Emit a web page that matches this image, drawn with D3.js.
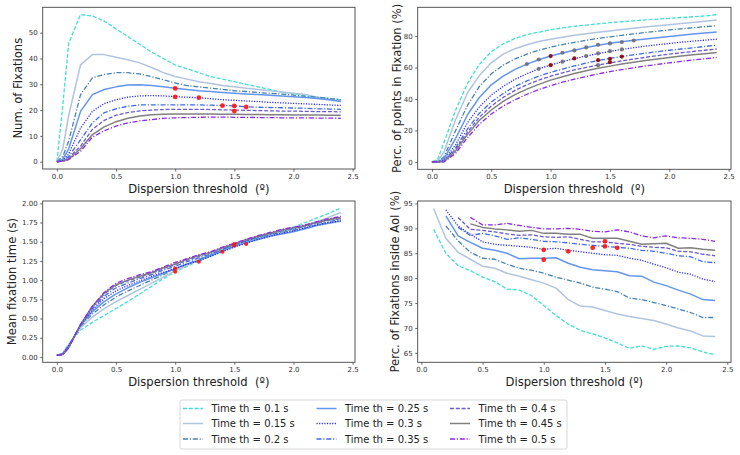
<!DOCTYPE html>
<html><head><meta charset="utf-8">
<script src="https://cdn.jsdelivr.net/npm/d3@7"></script>
<style>body{margin:0;background:#fff}svg{display:block;font-family:"DejaVu Sans",sans-serif}text{white-space:pre}</style>
</head><body><svg id="c" width="740" height="455"></svg>
<script>
// ---------- data ----------
const seriesLabels = ["Time th = 0.1 s","Time th = 0.15 s","Time th = 0.2 s","Time th = 0.25 s","Time th = 0.3 s","Time th = 0.35 s","Time th = 0.4 s","Time th = 0.45 s","Time th = 0.5 s"];
const xDisp = [0,0.05,0.1,0.2,0.3,0.4,0.5,0.6,0.7,0.8,0.9,1.0,1.1,1.2,1.3,1.4,1.5,1.6,1.7,1.8,1.9,2.0,2.1,2.2,2.3,2.4];
const xAoi = [0.1,0.2,0.3,0.4,0.5,0.6,0.7,0.8,0.9,1.0,1.1,1.2,1.3,1.4,1.5,1.6,1.7,1.8,1.9,2.0,2.1,2.2,2.3,2.4];

const numFix = [
 [0,22,46,57,56.5,54.5,51.5,48.5,45.5,42.5,40,37.5,36,34.5,33,32,31,30,29,28,27,26.3,25.6,25,24.5,24],
 [0,5,18,37.5,41.5,41.5,40.5,39.5,38.3,36.5,34.5,33,32,31,30.3,29.5,29,28.5,28,27.5,27,26.5,26,25,24.3,23.5],
 [0,2,8,26,32.5,33.8,34.5,34.5,34,33,31.8,30.5,29.5,29,28.5,28,27.5,27.2,26.8,26.5,26.2,25.8,25.3,25,24.5,24],
 [0,1,5,19.5,26,28,29,29.7,29.8,29.5,29,28.5,28,27.5,27.2,26.8,26.5,26.2,26,25.7,25.5,25.2,24.9,24.5,24,23.3],
 [0,0.5,3,13,19.5,22.5,24,25,25.5,25.6,25.5,25.2,25,24.8,24.4,24,23.8,23.5,23.3,23,22.8,22.6,22.4,22.2,22,21.8],
 [0,0.3,2,8.5,15,19,20.5,21.5,22,22,22,22,22,22,21.9,21.8,21.6,21.3,21.1,21,20.9,20.8,20.7,20.5,20.4,20.3],
 [0,0.2,1.5,6,12.5,16,18,19,19.7,20,20.2,20.3,20.3,20.3,20.2,20.1,20,19.9,19.8,19.7,19.6,19.6,19.5,19.4,19.4,19.3],
 [0,0.2,1,5,10.5,13.5,15.5,16.8,17.7,18.2,18.4,18.5,18.5,18.5,18.5,18.4,18.4,18.3,18.3,18.2,18.2,18.1,18.1,18.1,18,18],
 [0,0.1,0.8,4,9.5,12,13.8,15,15.8,16.3,16.8,17,17.1,17.2,17.3,17.3,17.2,17.2,17.1,17.1,17,17,17,16.9,16.9,16.8]
];
const percPts = [
 [0,2,12,33,50,62,70,75,78.5,81,82.5,84,85.2,86.2,87,87.8,88.5,89.1,89.7,90.3,90.8,91.3,91.8,92.3,92.8,93.6],
 [0,1,6,27,44,55,63,68.5,72,74.5,76.5,78,79.3,80.5,81.5,82.5,83.3,84.2,85,85.8,86.5,87.2,88,88.7,89.4,90.2],
 [0,0.5,3,20,36,48,56,61.5,65.5,68.5,71,73,74.6,76,77.3,78.5,79.5,80.5,81.4,82.3,83.1,83.9,84.6,85.3,86,86.6],
 [0,0,2,15,30,41,49,54.5,58.8,62.2,65,67.3,69.3,71,72.7,74.2,75.4,76.4,77.3,78.2,79,79.8,80.6,81.3,82,82.6],
 [0,0,1,11,25,35,42.5,48,52.5,56,59.2,61.6,63.7,65.7,67.3,68.9,70.3,71.5,72.6,73.6,74.5,75.3,76.1,76.8,77.4,78],
 [0,0,0.5,9,21,31,38,43.5,48,51.5,54.5,57,59,61,62.8,64.5,65.8,67,68.1,69.1,70.1,71,71.8,72.6,73.4,74.2],
 [0,0,0.3,8,19,28.5,35.5,41,45.5,49,52,54.5,56.6,58.5,60.1,61.6,63,64.2,65.4,66.5,67.5,68.5,69.4,70.2,71,71.8],
 [0,0,0.2,7,17.5,26.5,33,38.5,42.8,46.3,49.3,52,54.2,56.2,57.9,59.5,60.9,62.2,63.4,64.5,65.5,66.4,67.3,68.1,68.8,69.5],
 [0,0,0,5.5,15.5,24,30.5,35.5,39.5,43,46,48.5,50.7,52.6,54.3,55.9,57.4,58.7,59.9,61,62,63,63.9,64.8,65.6,66.4]
];
const meanTime = [
 [0.02,0.05,0.17,0.35,0.45,0.54,0.63,0.72,0.82,0.92,1.02,1.11,1.18,1.25,1.31,1.38,1.44,1.49,1.54,1.59,1.64,1.69,1.75,1.81,1.87,1.94],
 [0.02,0.05,0.16,0.38,0.52,0.63,0.72,0.80,0.88,0.96,1.04,1.12,1.19,1.26,1.32,1.39,1.45,1.50,1.55,1.59,1.63,1.66,1.71,1.76,1.82,1.88],
 [0.02,0.04,0.15,0.40,0.56,0.68,0.78,0.86,0.93,1.00,1.07,1.14,1.21,1.27,1.33,1.40,1.46,1.51,1.55,1.59,1.62,1.65,1.68,1.72,1.76,1.79],
 [0.02,0.04,0.14,0.41,0.59,0.72,0.82,0.90,0.97,1.03,1.09,1.15,1.21,1.26,1.32,1.38,1.44,1.49,1.53,1.57,1.60,1.63,1.67,1.71,1.74,1.77],
 [0.02,0.04,0.14,0.42,0.61,0.76,0.86,0.93,0.99,1.05,1.10,1.15,1.21,1.25,1.31,1.37,1.43,1.48,1.53,1.57,1.61,1.64,1.68,1.72,1.75,1.77],
 [0.02,0.03,0.13,0.42,0.63,0.79,0.90,0.96,1.02,1.07,1.13,1.18,1.24,1.29,1.34,1.40,1.46,1.51,1.56,1.60,1.64,1.67,1.70,1.74,1.78,1.80],
 [0.02,0.03,0.13,0.42,0.65,0.82,0.93,0.99,1.04,1.09,1.15,1.20,1.26,1.31,1.36,1.42,1.47,1.52,1.57,1.61,1.65,1.68,1.71,1.75,1.79,1.82],
 [0.02,0.03,0.12,0.42,0.66,0.83,0.94,1.00,1.05,1.10,1.16,1.21,1.27,1.32,1.36,1.42,1.47,1.53,1.57,1.61,1.65,1.68,1.71,1.75,1.79,1.81],
 [0.02,0.03,0.12,0.42,0.66,0.84,0.96,1.02,1.07,1.11,1.17,1.23,1.28,1.33,1.37,1.43,1.48,1.53,1.58,1.62,1.66,1.69,1.72,1.76,1.80,1.83]
];
const percAoi = [
 [89.8,85,82.5,81.5,80.2,79.3,77.8,77.6,76.5,74.5,72.5,70.8,69.5,68.8,68,67,65.9,66.4,65.7,66.3,66.4,66,65.2,64.6],
 [94,88,85.2,83.8,82.4,82,81,80.4,79.7,79,78,75.7,74.4,74.2,73.5,72.8,72.3,71.9,71.5,70.8,70,69.4,68.4,68.3],
 [null,90.5,87.5,85.2,84,83.8,82.8,82,81.6,81,80.2,79.6,79,78.2,77.8,77.3,76,75.7,75.1,74.5,73.8,73.1,72.1,72.1],
 [null,92.5,88.5,87.2,86,85.6,85,83.9,84,84,84.1,83,82.2,81.7,81.5,81.3,80.5,80.4,79.2,78.5,77.6,76.8,75.7,75.5],
 [null,93.7,90.5,88.8,87.3,86.8,86.6,86.4,86.2,85.8,86,85.6,85.3,85,84.7,84.6,84,83.6,82.8,82.1,81.2,80.8,79.8,79.3],
 [null,null,90.2,88.6,89,88.5,87.8,88.1,87.8,87.4,87.3,87.1,86.8,86.6,86.4,86.2,86,85.6,85.4,85,84.5,84.3,83.3,83.1],
 [null,null,92.2,89.8,89.6,89.3,88.9,88.6,88.7,88.3,88.2,88.3,87.8,87.3,87.3,87,86.8,86.4,86.2,86.1,85.4,85.3,84.8,84.5],
 [null,null,null,90.9,90.2,89.9,89.7,89.4,89.6,89,89,88.8,88.8,88,88,88,87.4,86.8,86.9,87,86,86.1,85.8,85.6],
 [null,null,null,92.2,90.7,90.7,91,90.6,90.2,89.9,89.9,90,89.8,89.4,89.3,89.7,89.3,88.5,88.1,88.5,88.1,88,87.8,87.4]
];
// highlighted points [x, y]
const numFixMarks = [[1.0,28.4],[1.0,25.1],[1.2,24.8],[1.4,21.7],[1.5,21.6],[1.5,19.6],[1.6,21.2]];
const percPtsGrayMarks = [[0.8,62.2],[0.9,65.1],[1.1,69.4],[1.2,70.9],[1.3,72.8],[1.4,74.5],[1.5,75.3],[1.6,76.2],[1.7,77.2],[0.9,59.2],[1.1,63.7],[1.3,67.3],[1.4,69],[1.5,70.4],[1.6,71.5],[1.4,61.5]];
const percPtsRedMarks = [[1.0,67.3],[1.0,61.5],[1.2,65.8],[1.4,64.7],[1.5,65.6],[1.6,67],[1.5,63.4]];
const meanTimeMarks = [[1.0,1.11],[1.0,1.15],[1.2,1.24],[1.4,1.37],[1.5,1.45],[1.5,1.47],[1.6,1.47]];
const percAoiMarks = [[1.0,85.7],[1.0,83.7],[1.2,85.4],[1.4,86.1],[1.5,87.4],[1.5,86.4],[1.6,86.1]];

const xTicks = [0,0.5,1,1.5,2,2.5];
const numFixTicks = [0,10,20,30,40,50];
const percPtsTicks = [0,20,40,60,80];
const meanTimeTicks = [0,0.25,0.5,0.75,1,1.25,1.5,1.75,2];
const percAoiTicks = [65,70,75,80,85,90,95];

// ---------- styles ----------
const colors = ["#40e0d0","#b0c4de","#4682b4","#6495ed","#2a2af0","#4169e1","#6a5acd","#808080","#8a2be2"];
const dashes = ["4,1.8", null, "5,1.8,1.2,1.8", null, "1.2,1.4", "5,1.8,1.2,1.8", "4,1.8", null, "5,1.8,1.2,1.8"];
const widths = [1.3,1.5,1.3,1.5,1.3,1.3,1.3,1.5,1.3];

const svg = d3.select("#c");

function panel(o) {
  const g = svg.append("g");
  const x = d3.scaleLinear().domain(o.xd).range([o.l, o.r]);
  const y = d3.scaleLinear().domain(o.yd).range([o.b, o.t]);
  const clipId = "clip" + o.id;
  svg.append("clipPath").attr("id", clipId).append("rect")
    .attr("x", o.l).attr("y", o.t).attr("width", o.r - o.l).attr("height", o.b - o.t);
  const lines = g.append("g").attr("clip-path", `url(#${clipId})`);
  o.data.forEach((ys, i) => {
    const pts = o.xs.map((xv, j) => [xv, ys[j]]);
    const line = d3.line().defined(d => d[1] != null).x(d => x(d[0])).y(d => y(d[1]));
    lines.append("path").attr("d", line(pts)).attr("fill", "none")
      .attr("stroke", colors[i]).attr("stroke-width", widths[i])
      .attr("stroke-dasharray", dashes[i]).attr("stroke-linejoin", "round");
  });
  (o.marks || []).forEach(m => {
    lines.selectAll(null).data(m.pts).enter().append("circle")
      .attr("cx", d => x(d[0])).attr("cy", d => y(d[1])).attr("r", m.r || 2.4)
      .attr("fill", m.color).attr("opacity", 0.9);
  });
  // axes
  const ax = g.append("g").attr("transform", `translate(0,${o.b})`)
    .call(d3.axisBottom(x).tickValues(xTicks).tickFormat(d3.format(".1f")).tickSize(2.5).tickPadding(2.5));
  const ay = g.append("g").attr("transform", `translate(${o.l},0)`)
    .call(d3.axisLeft(y).tickValues(o.yt).tickFormat(o.yf).tickSize(2.5).tickPadding(2.5));
  [ax, ay].forEach(a => {
    a.select(".domain").remove();
    a.selectAll("text").attr("font-size", 7).attr("fill", "#333").attr("font-family", "DejaVu Sans");
    a.selectAll("line").attr("stroke", "#444").attr("stroke-width", 0.8);
  });
  g.append("rect").attr("x", o.l).attr("y", o.t).attr("width", o.r - o.l).attr("height", o.b - o.t)
    .attr("fill", "none").attr("stroke", "#444").attr("stroke-width", 0.9);
  g.append("text").attr("x", (o.l + o.r) / 2).attr("y", o.b + 24).attr("text-anchor", "middle")
    .attr("font-size", 11.6).attr("fill", "#222").text(o.xl);
  g.append("text").attr("transform", `translate(${o.ylx},${(o.t + o.b) / 2}) rotate(-90)`)
    .attr("text-anchor", "middle").attr("dy", "0.35em")
    .attr("font-size", 11.6).attr("fill", "#222").text(o.yl);
}

panel({id:1, l:42.7, r:355, t:7.3, b:169, xd:[-0.12,2.52], yd:[-2.85,59.85], xs:xDisp, data:numFix,
  yt:numFixTicks, yf:d3.format("d"), xl:"Dispersion threshold  (º)", yl:"Num. of Fixations", ylx:18,
  marks:[{pts:numFixMarks, color:"#ff1010"}]});
panel({id:2, l:417.7, r:731, t:7.3, b:169.3, xd:[-0.12,2.52], yd:[-4.7,98.3], xs:xDisp, data:percPts,
  yt:percPtsTicks, yf:d3.format("d"), xl:"Dispersion threshold  (º)", yl:"Perc. of points in Fixation (%)", ylx:396.5,
  marks:[{pts:percPtsGrayMarks, color:"#6e6e78", r:2.1},{pts:percPtsRedMarks, color:"#8b0000", r:2.1}]});
panel({id:3, l:42.7, r:355, t:201, b:362.3, xd:[-0.12,2.52], yd:[-0.07,2.03], xs:xDisp, data:meanTime,
  yt:meanTimeTicks, yf:d3.format(".2f"), xl:"Dispersion threshold  (º)", yl:"Mean fixation time (s)", ylx:12,
  marks:[{pts:meanTimeMarks, color:"#ff1010", r:2}]});
panel({id:4, l:417.7, r:731, t:201, b:362.3, xd:[-0.03,2.53], yd:[63.1,95.5], xs:xAoi, data:percAoi,
  yt:percAoiTicks, yf:d3.format("d"), xl:"Dispersion threshold (º)", yl:"Perc. of Fixations inside AoI (%)", ylx:395,
  marks:[{pts:percAoiMarks, color:"#ff1010"}]});

// ---------- legend ----------
const lg = svg.append("g");
lg.append("rect").attr("x", 180).attr("y", 400).attr("width", 387).attr("height", 49).attr("rx", 2)
  .attr("fill", "#fff").attr("stroke", "#d4d4d4").attr("stroke-width", 0.9);
const colX = [183, 316.5, 450];
const rowY = [408.5, 423.5, 439];
seriesLabels.forEach((lab, i) => {
  const c = Math.floor(i / 3), r = i % 3;
  lg.append("line").attr("x1", colX[c]).attr("x2", colX[c] + 20).attr("y1", rowY[r]).attr("y2", rowY[r])
    .attr("stroke", colors[i]).attr("stroke-width", widths[i]).attr("stroke-dasharray", dashes[i]);
  lg.append("text").attr("x", colX[c] + 28.5).attr("y", rowY[r]).attr("dy", "0.35em")
    .attr("font-size", 10).attr("fill", "#222").text(lab);
});
</script></body></html>
